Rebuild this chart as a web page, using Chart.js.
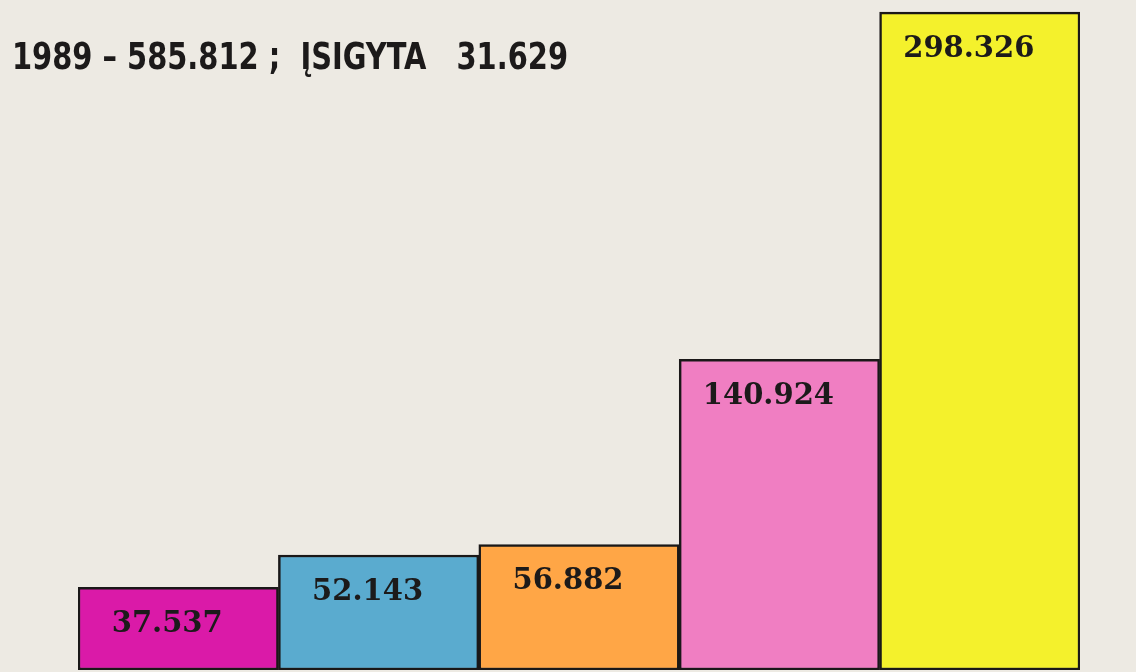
<!DOCTYPE html>
<html>
<head>
<meta charset="utf-8">
<script src="https://cdn.jsdelivr.net/npm/chart.js@4.4.0/dist/chart.umd.min.js"></script>
<style>
  html, body { margin: 0; padding: 0; background: #edeae3; }
  #wrap { width: 1136px; height: 672px; position: relative; }
</style>
</head>
<body>
<div id="wrap"><canvas id="chart"></canvas></div>
<script>
// data
const categories = ['1', '2', '3', '4', '5'];
const values = [37537, 52143, 56882, 140924, 298326];
const barColors = ['#da1aa8', '#5aabcf', '#ffa646', '#f07ec2', '#f4f12c'];
const titleText = '1989 – 585.812 ;  ĮSIGYTA   31.629';

function fmt(v) {
  return v.toString().replace(/\B(?=(\d{3})+(?!\d))/g, '.');
}

// value labels near the top of each bar
const barLabels = {
  id: 'barLabels',
  afterDatasetsDraw(chart) {
    const ctx = chart.ctx;
    const meta = chart.getDatasetMeta(0);
    ctx.save();
    ctx.font = 'bold 29px "DejaVu Serif", serif';
    ctx.fillStyle = '#1c1a1a';
    ctx.textAlign = 'center';
    ctx.textBaseline = 'middle';
    meta.data.forEach(function (bar, i) {
      ctx.fillText(fmt(values[i]), bar.x - 11, bar.y + 37);
    });
    ctx.restore();
  }
};

// hand-lettered heading, top left (squeezed to the width of the original)
const heading = {
  id: 'heading',
  afterDraw(chart) {
    const ctx = chart.ctx;
    ctx.save();
    ctx.font = 'bold 37px "DejaVu Sans Condensed", "Liberation Sans", sans-serif';
    ctx.fillStyle = '#1c1a1a';
    ctx.textAlign = 'left';
    ctx.textBaseline = 'alphabetic';
    const w = ctx.measureText(titleText).width;
    ctx.translate(12, 69);
    ctx.scale(556 / w, 1);
    ctx.fillText(titleText, 0, 0);
    ctx.restore();
  }
};

new Chart(document.getElementById('chart'), {
  type: 'bar',
  data: {
    labels: categories,
    datasets: [{
      data: values,
      backgroundColor: barColors,
      borderColor: '#1a1818',
      borderWidth: 2.5,
      borderSkipped: false,
      barPercentage: 1,
      categoryPercentage: 1
    }]
  },
  options: {
    responsive: true,
    maintainAspectRatio: false,
    animation: false,
    layout: { padding: { left: 78, right: 56, top: 0, bottom: 2 } },
    plugins: {
      legend: { display: false },
      tooltip: { enabled: false }
    },
    scales: {
      x: { display: false },
      y: { display: false, min: 0, max: 303800 }
    }
  },
  plugins: [barLabels, heading]
});
</script>
</body>
</html>
